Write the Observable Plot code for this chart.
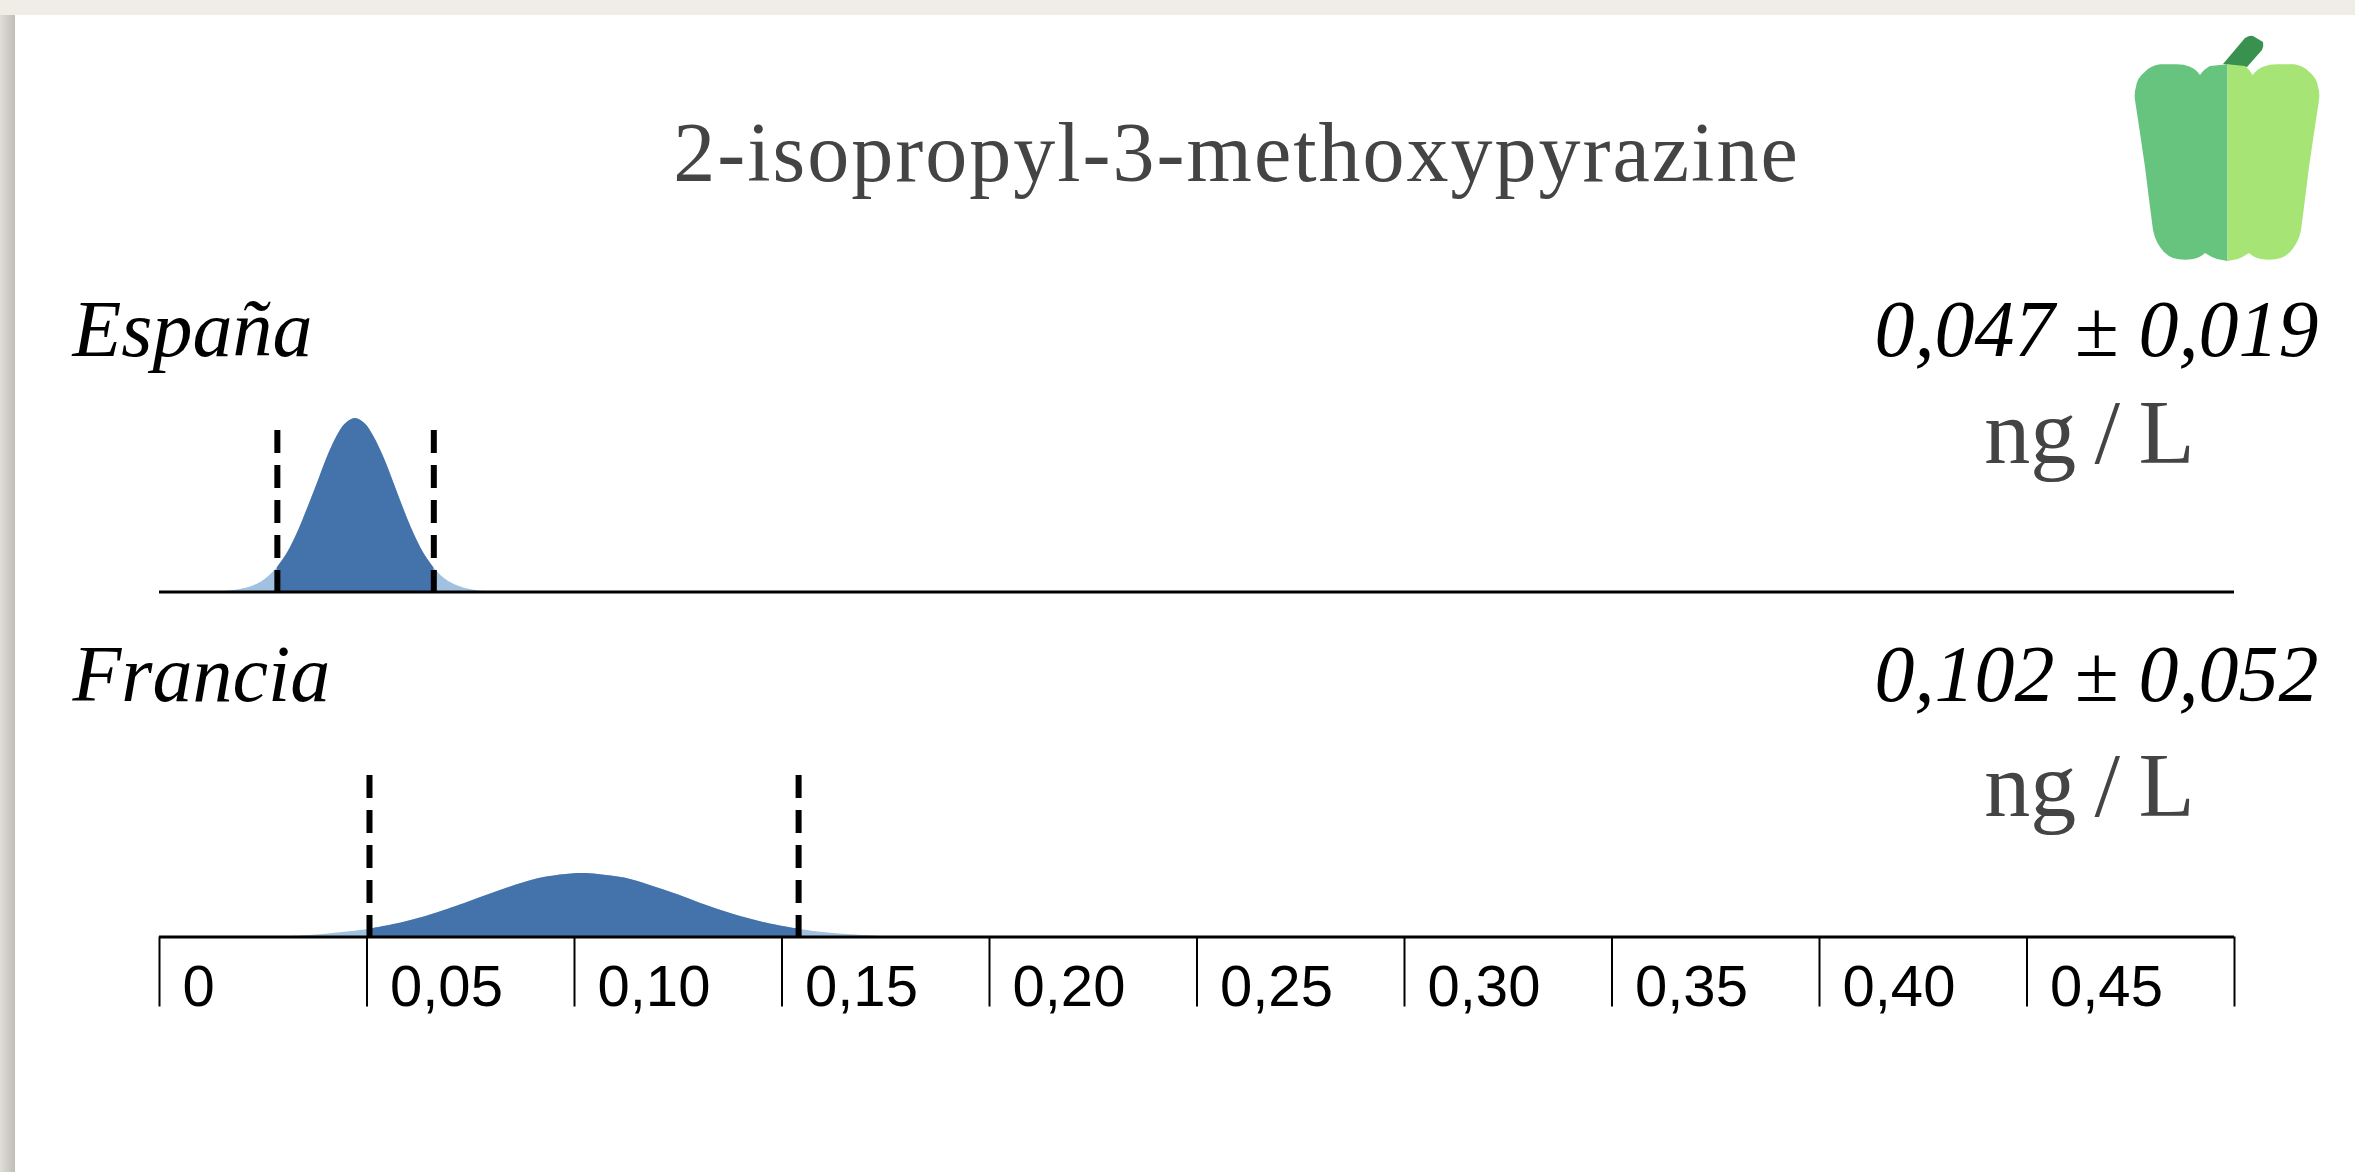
<!DOCTYPE html>
<html lang="es">
<head>
<meta charset="utf-8">
<title>2-isopropyl-3-methoxypyrazine</title>
<script src="https://cdn.jsdelivr.net/npm/d3@7"></script>
<script src="https://cdn.jsdelivr.net/npm/@observablehq/plot@0.6"></script>
<style>
  html,body{margin:0;padding:0;background:#f0ede6;width:2355px;height:1172px;overflow:hidden}
  #strip{position:absolute;left:0;top:15px;width:15px;height:1157px;background:linear-gradient(90deg,#e0ded8,#bfbdb6)}
  #card{position:absolute;left:15px;top:15px;width:2340px;height:1157px;background:#fff}
  #root{position:absolute;left:0;top:0;width:2355px;height:1172px}
  #root svg{position:absolute;left:0;top:0;background:transparent;overflow:visible}
  h1{position:absolute;left:0;width:2473px;top:103px;margin:0;text-align:center;font:400 84px/100px "Liberation Serif",serif;color:#444;letter-spacing:2px;white-space:nowrap}
  #pepper{position:absolute;left:0;top:0}
</style>
</head>
<body>
<div id="strip"></div>
<div id="card"></div>
<div id="root"></div>
<script>
const titulo = "2-isopropyl-3-methoxypyrazine";
const paises = ["España", "Francia"];
const resumen = ["0,047 ± 0,019", "0,102 ± 0,052"];
const unidad = "ng\u2009/\u2009L";

const espanaValor = [0.0150,0.0171,0.0195,0.0227,0.0251,0.0276,0.0284,0.0308,0.0332,0.0356,0.0380,0.0404,0.0428,0.0448,0.0472,0.0496,0.0516,0.0541,0.0565,0.0589,0.0613,0.0637,0.0661,0.0685,0.0709,0.0733,0.0757,0.0781,0.0800];
const espanaDensidad = [0,0.3,0.6,1.5,2.8,5.0,5.9,9.4,14.2,20.0,26.2,32.6,37.8,40.8,42.1,40.8,37.8,32.6,26.4,20.0,14.2,9.4,5.9,3.4,1.9,1.0,0.45,0.15,0];
const franciaValor = [0.0300,0.0347,0.0412,0.0506,0.0568,0.0624,0.0661,0.0734,0.0808,0.0882,0.0937,0.0993,0.1020,0.1057,0.1121,0.1177,0.1251,0.1306,0.1380,0.1453,0.1540,0.1583,0.1656,0.1730,0.1780];
const franciaDensidad = [0,0.3,0.8,1.9,3.1,4.5,5.6,8.1,10.8,13.3,14.6,15.3,15.4,15.2,14.3,12.7,10.2,8.1,5.6,3.6,1.9,1.3,0.6,0.2,0];

const espanaLimites = [0.0284, 0.0661];
const franciaLimites = [0.0506, 0.1540];
const alturaLimite = 39.2;

const tickValores = [0,0.05,0.10,0.15,0.20,0.25,0.30,0.35,0.40,0.45,0.50];
const tickEtiquetas = ["0","0,05","0,10","0,15","0,20","0,25","0,30","0,35","0,40","0,45",""];

const colorClaro = "#a0c2e0";
const colorOscuro = "#4472aa";

const toRows = (pais, xs, ys) => xs.map((x, i) => ({pais, x, y: ys[i]}));
const curvas = [...toRows(paises[0], espanaValor, espanaDensidad), ...toRows(paises[1], franciaValor, franciaDensidad)];
const limites = [
  ...espanaLimites.map(x => ({pais: paises[0], x})),
  ...franciaLimites.map(x => ({pais: paises[1], x}))
];
const limiteDe = {[paises[0]]: espanaLimites, [paises[1]]: franciaLimites};
const oscuro = curvas.filter(d => d.x >= limiteDe[d.pais][0] && d.x <= limiteDe[d.pais][1]);
const filas = paises.map((pais, i) => ({pais, resumen: resumen[i], unidad}));

const serif = "Liberation Serif";
const unidadMark = (fila, dy) => Plot.text([fila], {
  text: "unidad", fy: "pais",
  frameAnchor: "bottom-right", lineAnchor: "bottom", textAnchor: "middle",
  dx: -145, dy, fontFamily: serif, fontSize: 92, fill: "#444"
});
const chart = Plot.plot({
  width: 2355, height: 1172,
  marginTop: 246.5, marginBottom: 235.5, marginLeft: 159, marginRight: 121,
  style: {background: "transparent"},
  x: {domain: [0, 0.5]},
  y: {domain: [0, 83.74], axis: null},
  fy: {domain: paises, padding: 0, axis: null, round: false},
  marks: [
    Plot.areaY(curvas, {x: "x", y: "y", fy: "pais", fill: colorClaro, curve: "catmull-rom"}),
    Plot.areaY(oscuro, {x: "x", y: "y", fy: "pais", fill: colorOscuro, curve: "catmull-rom"}),
    Plot.ruleX(limites, {x: "x", y1: alturaLimite, y2: 0, fy: "pais", stroke: "#000", strokeWidth: 6, strokeDasharray: "23 12"}),
    Plot.ruleY(paises, {y: 0, x1: 0, x2: 0.5, fy: d => d, stroke: "#000", strokeWidth: 3}),
    Plot.axisX({
      ticks: tickValores, tickFormat: () => "",
      tickSize: 70, strokeWidth: 2, stroke: "#000", label: null
    }),
    Plot.axisX({
      ticks: tickValores,
      tickFormat: d => tickEtiquetas[tickValores.indexOf(d)],
      tickSize: 0, tickPadding: 28,
      fontSize: 58, fontFamily: "Liberation Sans", fill: "#000",
      textAnchor: "start", dx: 23, label: null
    }),
    Plot.text(filas, {text: "pais", fy: "pais", frameAnchor: "bottom-left", lineAnchor: "bottom", textAnchor: "start", dx: -87, dy: -236, fontFamily: serif, fontStyle: "italic", fontSize: 80, fill: "#000"}),
    Plot.text(filas, {text: "resumen", fy: "pais", frameAnchor: "bottom-right", lineAnchor: "bottom", textAnchor: "end", dx: 84, dy: -236, fontFamily: serif, fontStyle: "italic", fontSize: 80, fill: "#000"}),
    unidadMark(filas[0], -129),
    unidadMark(filas[1], -121)
  ]
});
document.getElementById("root").appendChild(chart);

const h1 = document.createElement("h1");
h1.textContent = titulo;
document.getElementById("root").appendChild(h1);

// Icono decorativo del pimiento
const icon = `<svg id="pepper" width="2355" height="1172" viewBox="0 0 2355 1172" xmlns="http://www.w3.org/2000/svg">
<path fill="#38914f" d="M2223 64L2245 38Q2250 35 2253 36L2263 42Q2264 46 2262 50L2247 67L2238 66Z"/>
<path fill="#66c47e" d="M2227.500 64.300L2210 66Q2204 69 2200 75Q2196 69 2190 66.700Q2184 64.300 2176.700 64.300L2160 64.300Q2150 66 2145 71.700Q2137 78 2136 86.700Q2134 93 2135 100L2140 133L2145 167L2150 207L2153 230Q2155 240 2160 247Q2165 255 2173 258Q2183 261 2193 259Q2200 258 2205 253Q2211 257 2217 259L2227.500 261Z"/>
<path fill="#a5e475" d="M2227.500 64.300L2245 66Q2249 69 2252.700 75Q2257 69 2263 66.700Q2270 64.300 2277 64.300L2294 64.300Q2304 66 2309 71.700Q2317 78 2318 86.700Q2320 93 2319 100L2314 133L2309 167L2304 207L2301 230Q2299 240 2294 247Q2289 255 2281 258Q2271 261 2261 259Q2254 258 2249 253Q2243 257 2238 259L2227.500 261Z"/>
</svg>`;
document.getElementById("root").insertAdjacentHTML("beforeend", icon);
</script>
</body>
</html>
